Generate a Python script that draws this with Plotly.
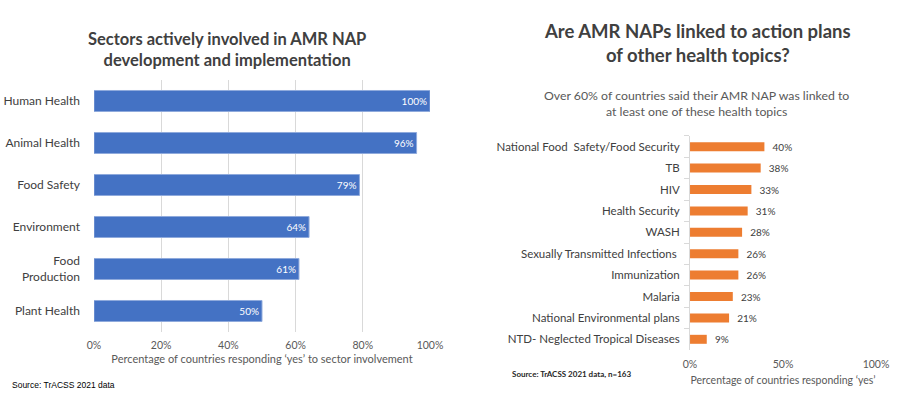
import plotly.graph_objects as go

sectors = ["Human Health", "Animal Health", "Food Safety", "Environment", "Food<br>Production", "Plant Health"]
sector_pct = [100, 96, 79, 64, 61, 50]
sector_ticks = [0, 20, 40, 60, 80, 100]

topics = ["National Food  Safety/Food Security", "TB", "HIV", "Health Security", "WASH",
          "Sexually Transmitted Infections ", "Immunization", "Malaria",
          "National Environmental plans", "NTD- Neglected Tropical Diseases"]
topic_pct = [40, 38, 33, 31, 28, 26, 26, 23, 21, 9]
topic_ticks = [0, 50, 100]

FONT = "Lato"
DARK = "#404040"
GRAY = "#595959"

fig = go.Figure()
fig.add_trace(go.Bar(
    x=sector_pct, y=sectors, orientation="h", width=0.5,
    marker=dict(color="#4472C4", line=dict(color="#8FAADC", width=1)),
    text=[f"{v}%" for v in sector_pct], textposition="inside", insidetextanchor="end",
    textfont=dict(color="white", size=10, family=FONT), constraintext="none",
    xaxis="x", yaxis="y", showlegend=False, cliponaxis=False, hoverinfo="skip",
))
fig.add_trace(go.Bar(
    x=topic_pct, y=topics, orientation="h", width=0.42,
    marker=dict(color="#ED7D31", line=dict(width=0)),
    text=[f"  {v}%" for v in topic_pct], textposition="outside",
    textfont=dict(color=DARK, size=10, family=FONT), constraintext="none",
    xaxis="x2", yaxis="y2", showlegend=False, cliponaxis=False, hoverinfo="skip",
))

fig.update_layout(
    width=900, height=395, margin=dict(l=0, r=0, t=0, b=0, autoexpand=False),
    paper_bgcolor="white", plot_bgcolor="white",
    font=dict(family=FONT, color=DARK),
    xaxis=dict(domain=[0.1044, 0.4778], range=[0, 100], tickvals=sector_ticks,
               ticktext=[f"{v}%" for v in sector_ticks], automargin=False,
               showgrid=True, gridcolor="#D9D9D9", gridwidth=1, zeroline=False,
               showline=False, tickfont=dict(size=10.5, color=GRAY, family=FONT), ticks="",
               ticklabelstandoff=6,
               title=dict(text="Percentage of countries responding ‘yes’ to sector involvement",
                          font=dict(size=11, color=GRAY, family=FONT), standoff=4),
               anchor="y", fixedrange=True),
    yaxis=dict(domain=[0.1595, 0.7975], autorange="reversed", showgrid=False, automargin=False,
               tickfont=dict(size=12, color=DARK, family=FONT), ticks="", ticklabelstandoff=13,
               showline=False, anchor="x", fixedrange=True),
    xaxis2=dict(domain=[0.7667, 0.9733], range=[0, 100], tickvals=topic_ticks,
                ticktext=[f"{v}%" for v in topic_ticks], automargin=False,
                showgrid=False, zeroline=False, showline=False,
                tickfont=dict(size=10.5, color=GRAY, family=FONT), ticks="",
                ticklabelstandoff=6,
                title=dict(text="Percentage of countries responding ‘yes’",
                           font=dict(size=10.5, color=GRAY, family=FONT), standoff=8),
                anchor="y2", fixedrange=True),
    yaxis2=dict(domain=[0.1139, 0.6557], autorange="reversed", showgrid=False, automargin=False,
                tickfont=dict(size=11.5, color=DARK, family=FONT),
                ticks="outside", tickson="boundaries", ticklen=5, tickcolor="#D9D9D9",
                showline=True, linecolor="#D9D9D9", linewidth=1, ticklabelstandoff=7,
                anchor="x2", fixedrange=True),
    annotations=[
        dict(text="<b>Sectors actively involved in AMR NAP<br>development and implementation</b>",
             x=227 / 900, y=1 - 49 / 395, xref="paper", yref="paper", showarrow=False,
             xanchor="center", yanchor="middle",
             font=dict(size=16.5, color=DARK, family=FONT), align="center"),
        dict(text="<b>Are AMR NAPs linked to action plans<br>of other health topics?</b>",
             x=697 / 900, y=1 - 43 / 395, xref="paper", yref="paper", showarrow=False,
             xanchor="center", yanchor="middle",
             font=dict(size=18.5, color=DARK, family=FONT), align="center"),
        dict(text="Over 60% of countries said their AMR NAP was linked to<br>at least one of these health topics",
             x=696 / 900, y=1 - 103 / 395, xref="paper", yref="paper", showarrow=False,
             xanchor="center", yanchor="middle",
             font=dict(size=12.3, color=GRAY, family=FONT), align="center"),
        dict(text="Source: TrACSS 2021 data", x=10 / 900, y=1 - 385 / 395,
             xref="paper", yref="paper", showarrow=False, xanchor="left", yanchor="middle",
             font=dict(size=8.5, color="black", family="Liberation Sans")),
        dict(text="<b>Source: TrACSS 2021 data, n=163</b>", x=510 / 900, y=1 - 374 / 395,
             xref="paper", yref="paper", showarrow=False, xanchor="left", yanchor="middle",
             font=dict(size=8, color="#262626", family=FONT)),
    ],
)

fig.write_html("out.html", config={"displayModeBar": False},
               post_script="document.body.style.margin='0';document.body.style.overflow='hidden';")
